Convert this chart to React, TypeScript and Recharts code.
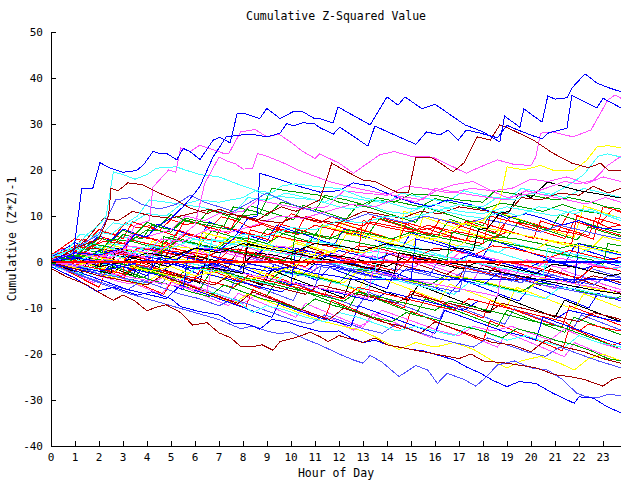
import React from 'react';
import { LineChart, Line, XAxis, YAxis } from 'recharts';

const hourTicks = [0,1,2,3,4,5,6,7,8,9,10,11,12,13,14,15,16,17,18,19,20,21,22,23];
const valueTicks = [-40,-30,-20,-10,0,10,20,30,40,50];
const hourDomain = [0, 23.75];
const valueDomain = [-40, 50];

// each series: [hour, value, hour, value, ...]
const topA = [0,0, 0.5,1.5, 0.9,0.5, 1.28,16, 1.74,16, 2.04,21.6, 2.46,20.4, 3.01,19.5, 3.57,19.9, 3.85,21.1, 4.26,24.1, 4.54,23.5, 4.82,23.6, 5.24,22.2, 5.51,24.7, 5.79,24, 6.21,22.3, 6.76,26.5, 7.04,27.1, 7.46,25.9, 7.76,32.3, 8.1,32.2, 8.7,31.2, 8.99,33.4, 9.54,31.2, 10.1,32.7, 10.45,32.8, 11,31.1, 11.2,31.2, 11.75,30.2, 11.96,33.7, 13.3,29.8, 14.0,35.9, 14.46,34.1, 14.75,35.9, 15.46,33.3, 16.0,34.3, 17.25,29.8, 18.0,28.3, 18.7,26.1, 18.9,31.7, 19.54,29.3, 19.7,33.3, 20.46,30.4, 20.7,36.1, 21.0,35.4, 21.5,35.7, 21.7,37.8, 22.25,40.9, 22.75,38.9, 23.17,38.0, 23.75,37.0];
const topB = [0,0, 1,2, 2,1.5, 3,3, 3.5,6, 4,5.5, 4.5,8, 5,9.5, 5.5,12, 6,15, 6.2,16.4, 6.75,22.8, 7.3,27.2, 7.9,27.6, 8.3,27.8, 9,27.2, 9.54,28, 9.82,30.1, 10.1,29.6, 10.5,30.3, 11,30, 11.2,29.2, 11.76,27.8, 12.04,29.3, 13.2,25.2, 13.5,29.6, 13.85,28.7, 14.5,27.2, 15.2,25.6, 15.65,28.3, 16.2,27.6, 16.55,28.7, 16.97,26.5, 17.3,28.7, 17.9,28, 18.6,27, 19.0,29.7, 19.5,28.6, 20.1,27.4, 20.46,26.8, 20.7,28, 21.5,29.1, 21.7,36.2, 22.75,33.5, 23.0,35.6, 23.75,33.5];
const mag1 = [0,0.5, 1,2, 2,1, 3,3, 3.5,8, 4.1,9, 4.25,16.3, 4.9,20, 5.2,19.5, 5.4,24.8, 5.8,24, 6.2,25.4, 6.7,24.5, 7.2,23.6, 7.4,23.5, 7.9,28.3, 8.5,28.8, 9,27.2, 9.5,27.8, 10,26, 10.5,24, 11,22.5, 11.2,23.5, 12,21.5, 12.6,19.3, 13.2,21.5, 13.7,23.3, 14.3,24, 15,23, 15.9,22.8, 16.75,20.7, 17.3,19.3, 17.9,20.7, 18.6,22.2, 19.3,21.2, 20.0,21, 20.2,22.8, 20.4,28, 20.9,28.3, 21.75,27.2, 22.5,28.7, 23.2,35.2, 23.5,36.3, 23.75,35.6];
const mag2 = [0,0, 1,-1, 2,0, 3,2, 4,1, 5,4, 6,8, 6.4,17, 7,22.8, 7.3,22, 7.7,21.3, 8,20.2, 8.4,20.3, 8.6,23.6, 9,23, 9.7,21.5, 10.3,20, 11,18.6, 11.6,17.5, 12.5,16.3, 13.5,15.2, 14.5,14.3, 15.5,13.5, 16,16, 17,15, 18,14.2, 19,13.5, 19.8,15.5, 20.6,14.5, 21.5,13.5, 22.3,12.6, 23.1,14, 23.75,13];
const mag3 = [0,0.5, 1,2, 2,1.5, 3,3, 4,2, 4.6,5, 5.5,4.5, 6.5,7, 7.5,6.5, 8.5,8, 9.5,10, 10.5,9.5, 11.5,11, 12.5,12.5, 13.5,12, 14.5,14, 15.2,13, 16.1,15.6, 16.8,16.8, 17.6,17.5, 18.3,15.6, 19,14, 19.9,14.8, 20.6,16, 21.4,17.5, 22,17, 22.6,17.8, 23.2,21, 23.75,23];
const darkRed1 = [0,0, 1,3, 2,5, 2.4,10, 2.5,16, 2.8,15.5, 3.2,17.2, 3.8,16.8, 4.5,15, 5.2,13.5, 5.8,11.7, 6.5,10.5, 7,11.5, 7.8,10, 8.6,9, 9,10.5, 9.6,12, 10.2,11, 11.2,13.5, 11.7,21.5, 12.2,20, 13,17.8, 13.5,17.5, 14.4,15.2, 14.9,15.2, 15.2,22.8, 15.9,22.6, 16.75,19.6, 17.2,21.5, 17.75,27.2, 18.3,26.5, 18.7,29.8, 19.1,29, 20.1,26.5, 20.9,23.7, 21.7,21.5, 22.4,20.5, 22.9,21.5, 23.2,20, 23.75,20];
const cyan1 = [0,1, 0.5,2, 1,3, 1.5,6, 2,8, 2.3,10, 2.6,19.6, 3,19, 3.5,18, 4,19, 4.4,20.4, 5.2,20.7, 5.6,20, 6.2,19, 7,18.5, 7.9,16.7, 8.6,15.5, 9.2,15, 9.6,16.5, 10.2,17, 11.2,16.3, 12,16, 13,14, 14,13, 15,11.5, 16,12.5, 17,11, 18,10.5, 19,12, 20,11, 21,10, 22,11.5, 23,10.5, 23.75,9.5];
const cyan3 = [0,1, 1,0, 2,2, 3,1, 4,3.5, 5,3, 6,5, 7,4.5, 8,6, 9,5.5, 10,7.5, 11,7, 12,9, 13,8.5, 14,10, 15,9.5, 16,11, 17,12.5, 18,12, 18.6,14, 19.3,13.5, 20,15, 20.8,14.5, 21.5,16.5, 22.2,19, 22.8,23, 23.2,23.5, 23.75,22.8];
const yellow1 = [0,0, 1,-1, 2,1, 3,0, 4,-2, 5,-1, 6,-3, 7,-2, 8,-4, 9,-3, 10,-1, 11,1, 12,3, 13,2, 14,4, 15,6, 16,5, 17,8, 18,9, 18.7,13, 19,20.7, 19.7,20, 20.4,21, 21,19.8, 21.8,20, 22.3,22, 22.75,25, 23.2,25.3, 23.75,24.8];
const black1 = [0,0, 1,1, 2,-1, 3,0, 4,2, 5,1, 6,3, 7,2, 8,4, 9,3, 10,2, 11,4, 12,3.5, 13,2.5, 14,4, 15,3, 16,2.5, 17,3, 17.6,2.5, 17.8,7, 18.2,7.4, 18.7,10.6, 19.1,11, 19.5,15, 20,14, 20.7,17.4, 21.3,16.5, 22,15.5, 22.8,14.8, 23.75,13.9];
const up1 = [0,0.5, 1,1, 1.6,4, 2.5,3.2, 3,6, 3.8,5, 4.2,8, 5,7, 5.6,9.5, 6.5,8.5, 7.2,7.8, 7.6,12, 8.5,11, 9,10, 9.6,13, 10.4,12, 11,11, 11.4,14.5, 12.3,13.5, 13,12.5, 13.6,14, 14.5,13, 15.4,12, 16,13.8, 17,12.5, 18,11.5, 18.8,12.8, 19.6,12, 20.5,11, 21.3,12.5, 22.2,11, 23,10.5, 23.75,9.5];
const up2 = [0,1, 0.6,2, 1.2,6, 2,5.5, 2.6,8.5, 3.2,8, 4,10.5, 4.8,10, 5.4,12.5, 6.2,12, 7,11, 7.6,10.5, 8.2,14, 9,13.5, 9.8,15, 10.6,14, 11.4,13, 12,14.5, 13,13.5, 14,12.8, 14.6,15, 15.5,14, 16.5,13, 17.2,15.5, 18,14.5, 19,13.5, 19.6,16, 20.6,15, 21.4,14, 22.2,16, 23,15, 23.75,14];
const up3 = [0,-0.5, 1,1, 2,2, 2.5,5, 3.3,4.5, 4,7, 5,6.5, 5.5,9, 6.5,8, 7.5,7, 8,10, 8.7,10.5, 9.2,16, 9.8,15.5, 10.5,15, 11.2,14.5, 12,13, 13,12, 13.5,13.5, 14.3,13, 15,14.8, 16,14.5, 17,13.5, 18,13, 18.5,15.5, 19.3,14.8, 20,14.5, 21,13.5, 21.6,14, 22.5,13, 23.1,12, 23.75,11.5];
const up4 = [0,0, 1,-0.5, 2,1, 3,2.5, 3.4,6, 4,5.5, 5,7, 5.6,10, 6.4,9, 7,10.5, 8,11, 8.6,13.5, 9.5,12.5, 10.5,11.5, 11.5,12, 12.2,15.5, 13,15, 14,14.5, 14.8,16.5, 15.6,16, 16.6,15, 17.5,16, 18.4,15.5, 19.2,16, 20,18, 20.7,17.5, 21.5,18.5, 22.3,17, 23,18.5, 23.75,17.5];
const up5 = [0,0.5, 0.8,2, 1.5,5, 2.2,9.5, 2.8,9, 3.4,11, 4.2,10, 5,9.5, 5.8,10.5, 6.6,11.5, 7.2,10.5, 8,10, 8.8,9, 9.6,8.5, 10.2,10, 11,9, 12,8.5, 13,11, 13.6,10.5, 14.6,9.5, 15.4,11, 16.2,10.5, 17,12, 18,11.2, 19,10.5, 19.6,14, 20.4,13.5, 21.2,15, 22,14.5, 22.6,16.5, 23.2,15, 23.75,16];
const up6 = [0,0, 1,-1, 2,-2, 3,-1, 4,-3, 4.5,1, 5.2,0.5, 6,3, 7,2.5, 7.6,5, 8.2,9.5, 8.6,10, 8.7,19.3, 9.5,18, 10.3,16.5, 11.2,15.2, 12,15.5, 12.6,17.2, 13.3,16.5, 14.2,14.5, 15,13, 15.8,12, 16.5,13.5, 17.5,12.5, 18.3,11, 19,9.5, 19.8,10.5, 20.5,9.5, 21.3,8, 22,9, 22.7,7.5, 23.75,7];
const up7 = [0,0, 0.7,1.5, 1.4,4, 2,6.5, 2.5,6, 3,8, 3.6,10, 4.1,13.5, 4.8,13, 5.5,12.5, 6.2,13.5, 7,13, 8,14, 8.5,15.5, 9,14.5, 10,14, 11,13.5, 12,12, 12.5,11.5, 13.2,12.5, 14,11, 14.8,10.5, 15.5,12, 16.4,11, 17.3,10, 18,9.5, 18.8,11, 19.5,10, 20.3,12, 21,11.5, 21.8,10.5, 22.5,11.5, 23.2,10, 23.75,9];
const upLB = [0,0, 1,3, 2,6, 2.7,13.5, 3.3,14, 3.8,12.5, 4.5,11.5, 5.2,12.5, 5.8,14.5, 6.4,13, 7,12, 7.6,11, 8.3,13, 9,15, 9.6,13.5, 10.3,12, 11,11, 11.6,10, 12.4,9, 13.2,10.5, 14,9.5, 14.8,8.5, 15.6,10, 16.4,9, 17.2,8, 18,9.5, 18.8,8.5, 19.6,7.5, 20.4,6.5, 21.2,8, 22,7, 22.8,6, 23.75,5];
const mid1 = [0,1, 0.5,2, 1,3.5, 1.5,3, 2.2,4.5, 3,4, 3.6,5.5, 4.2,5, 5,3.5, 5.6,6, 6.5,5, 7.3,4, 8,6.5, 8.8,5.5, 9.5,7, 10.3,6, 11,8, 11.8,7, 12.5,6, 13.2,8.5, 14,7.5, 15,6.5, 15.7,8, 16.5,7, 17.5,6, 18.2,5, 19,6.5, 20,5.5, 20.8,4.5, 21.7,4, 21.9,10, 22.6,9, 23.2,7.5, 23.75,8];
const mid2 = [0,0, 1,0.5, 1.5,2.5, 2.3,2, 3,1, 3.8,3, 4.6,2, 5.2,4.5, 6,4, 7,3, 7.5,5.5, 8.3,5, 9,4, 9.8,6.5, 10.8,6, 11.6,5, 12.4,7, 13.4,6, 14.2,5, 15,6.5, 16,5.5, 17,4.5, 17.8,3.5, 18.5,5.5, 19.4,5, 20.4,4, 21.2,3, 22,4, 23,3, 23.75,2];
const mid3 = [0,-0.5, 0.7,1, 1.4,0.5, 2,2.5, 2.6,2, 3.4,1, 4,3, 4.8,2.5, 5.5,1.5, 6.2,3.5, 7,3, 7.8,2, 8.5,1, 9,3.5, 9.8,3, 10.6,2, 11.3,1, 12,2.5, 12.8,1.5, 13.5,0.5, 14.3,2, 15,1.5, 15.8,0.5, 16.6,-0.5, 17.4,1.5, 18.2,0.5, 19,-0.5, 19.8,-1.5, 20.6,0.5, 21.4,-0.5, 22.2,-1.5, 23,0, 23.75,-1];
const mid4 = [0,0.5, 1,1.5, 2,1, 2.6,3, 3.4,2.5, 4.2,1.5, 5,3.5, 5.8,3, 6.6,2, 7.2,4.5, 8,4, 8.8,3, 9.5,2, 10.2,4, 11,3, 11.8,2, 12.3,6, 13,5.5, 13.8,4.5, 14.6,3.5, 15.3,5.5, 16.2,4.5, 17,3.5, 17.7,6, 18.5,5, 19.3,4, 20.1,2.5, 20.8,4.5, 21.6,3.5, 22.4,2.5, 23,5.5, 23.75,4.5];
const mid5 = [0,1.5, 0.8,3, 1.6,2.5, 2.4,4, 3.2,3.5, 4,2.5, 4.6,5, 5.4,4.5, 6.2,3.5, 7,2.5, 7.8,4.5, 8.6,4, 9.4,3, 10.2,2, 10.9,4.5, 11.7,4, 12.5,3, 13.3,2, 14,3.5, 14.8,3, 15.6,2, 16.4,1, 17,3.5, 17.8,3, 18.6,2, 19.3,4, 20.1,3, 20.9,2, 21.7,1, 22.5,3, 23.2,2, 23.75,1.5];
const mid6 = [0,0, 1,-1, 1.8,0.5, 2.6,0, 3.3,2, 4.1,1.5, 5,0.5, 5.8,-0.5, 6.4,2.5, 7.2,2, 8,1, 8.8,0, 9.6,2, 10.4,1.5, 11.2,0.5, 12,-0.5, 12.8,1.5, 13.6,1, 14.4,0, 15.2,-1, 15.9,1.5, 16.7,1, 17.5,0, 18.3,-1, 19.1,-2, 19.8,0.5, 20.6,-0.5, 21.4,-1.5, 22.2,0, 23,-1, 23.75,-2];
const mid7 = [0,0.5, 1,1, 1.7,3, 2.5,2.5, 3.3,1.5, 4,0.5, 4.7,2, 5.5,1.5, 6.3,0.5, 7,2.5, 7.8,2, 8.6,1, 9.4,0, 10.1,-1, 10.8,1, 11.6,0.5, 12.4,-0.5, 13.2,-1.5, 14,0, 14.8,-1, 15.6,-2, 16.4,-3, 17,-1, 17.8,-2, 18.6,-3, 19.4,-4, 20.2,-2.5, 21,-3.5, 21.8,-4.5, 22.6,-3, 23.4,-4, 23.75,-4.5];
const mid8 = [0,0, 0.8,-0.5, 1.6,-1.5, 2.2,0.5, 3,0, 3.8,-1, 4.6,-2, 5.2,0, 6,-0.5, 6.8,-1.5, 7.6,-2.5, 8.2,-0.5, 9,-1, 9.8,-2, 10.6,-3, 11.2,-1, 12,-1.5, 12.8,-2.5, 13.6,-3.5, 14.2,-1.5, 15,-2, 15.8,-3, 16.6,-4, 17.2,-2, 18,-2.5, 18.8,-3.5, 19.6,-4.5, 20.2,-2.5, 21,-3, 21.8,-4, 22.6,-5, 23.2,-3, 23.75,-3.5];
const mid9 = [0,-0.5, 0.8,0.5, 1.6,0, 2.4,2, 3.2,1.5, 4,0.5, 4.8,2.5, 5.6,2, 6.4,1, 7.2,3, 8,2.5, 8.8,1.5, 9.6,0.5, 10.4,2.5, 11.2,2, 12,1, 12.8,3.5, 13.6,3, 14.4,2, 15.2,1, 16,3, 16.8,2.5, 17.6,1.5, 18.4,3.5, 19.2,3, 20,2, 20.8,1, 21.6,2.5, 22.4,1.5, 23.2,0.5, 23.75,1];
const mid10 = [0,0.5, 1,0, 2,-1, 2.5,1.5, 3.3,1, 4.1,0, 4.9,-1, 5.5,1.5, 6.3,1, 7.1,0, 7.9,-1, 8.5,2, 9.3,1.5, 10.1,0.5, 10.9,-0.5, 11.6,1.5, 12.4,1, 13.2,0, 14,-1, 14.7,1, 15.5,0.5, 16.3,-0.5, 17.1,-1.5, 17.8,0, 18.6,-0.5, 19.4,-1.5, 20.2,-2.5, 20.9,-0.5, 21.7,-1, 22.5,-2, 23.3,-3, 23.75,-2.5];
const mid11 = [0,-0.5, 1,-1.5, 2,-2.5, 2.8,-1, 3.6,-1.5, 4.4,-2.5, 5.2,-3.5, 5.8,-1, 6.6,-1.5, 7.4,-2.5, 8.2,-3.5, 9,-4.5, 9.6,-2, 10.4,-2.5, 11.2,-3.5, 12,-4.5, 12.6,-1.5, 13.4,-2, 14.2,-3, 15,-4, 15.8,-5, 16.4,-3, 17.2,-3.5, 18,-4.5, 18.8,-5.5, 19.6,-6.5, 20.2,-4.5, 21,-5, 21.8,-6, 22.6,-7, 23.4,-8, 23.75,-7.5];
const mid12 = [0,0, 0.8,-1, 1.6,-2, 2.4,-3, 3,-1, 3.8,-1.5, 4.6,-2.5, 5.4,-3.5, 6,-1.5, 6.8,-2, 7.6,-3, 8.4,-4, 9,-1, 9.8,-1.5, 10.6,-2.5, 11.4,-3.5, 12.2,-4.5, 12.8,-2, 13.6,-2.5, 14.4,-3.5, 15.2,-4.5, 16,-5.5, 16.6,-3, 17.4,-3.5, 18.2,-4.5, 19,-5.5, 19.8,-6.5, 20.4,-3.5, 21.2,-4, 22,-5, 22.8,-6, 23.75,-7];
const mid13 = [0,0, 0.5,1.5, 1.2,1, 2,0, 2.8,-1, 3.4,1.5, 4.2,1, 5,0, 5.8,-1, 6.6,-2, 7.2,0.5, 8,0, 8.8,-1, 9.6,-2, 10.4,-3, 11,-0.5, 11.8,-1, 12.6,-2, 13.4,-3, 14.2,-4, 14.8,-1.5, 15.6,-2, 16.4,-3, 17.2,-4, 18,-5, 18.6,-2.5, 19.4,-3, 20.2,-4, 21,-5, 21.8,-6, 22.4,-3.5, 23.2,-4, 23.75,-5];
const mid14 = [0,1, 0.8,2.5, 1.6,2, 2.4,1, 3.2,3.5, 4,3, 4.8,2, 5.6,1, 6.4,3, 7.2,2.5, 8,1.5, 8.8,0.5, 9.4,3.5, 10.2,3, 11,2, 11.8,1, 12.6,0, 13.2,2.5, 14,2, 14.8,1, 15.6,0, 16.4,-1, 17,2, 17.8,1.5, 18.6,0.5, 19.4,-0.5, 20.2,-1.5, 20.8,1, 21.6,0.5, 22.4,-0.5, 23.2,-1.5, 23.75,-1];
const mid15 = [0,-1, 0.8,-2, 1.6,-3, 2.2,-0.5, 3,-1, 3.8,-2, 4.6,-3, 5.4,-4, 6,-1.5, 6.8,-2, 7.6,-3, 8.4,-4, 9.2,-5, 9.8,-2.5, 10.6,-3, 11.4,-4, 12.2,-5, 13,-6, 13.6,-3.5, 14.4,-4, 15.2,-5, 16,-6, 16.8,-7, 17.4,-4.5, 18.2,-5, 19,-6, 19.8,-7, 20.6,-8, 21.2,-5.5, 22,-6, 22.8,-7, 23.75,-8];
const mid16 = [0,0.5, 0.6,2.5, 1.4,2, 2.2,1, 3,0, 3.6,3, 4.4,2.5, 5.2,1.5, 6,0.5, 6.8,-0.5, 7.4,2.5, 8.2,2, 9,1, 9.8,0, 10.6,-1, 11.2,1.5, 12,1, 12.8,0, 13.6,-1, 14.4,-2, 15,1, 15.8,0.5, 16.6,-0.5, 17.4,-1.5, 18.2,-2.5, 18.8,0, 19.6,-0.5, 20.4,-1.5, 21.2,-2.5, 22,-3.5, 22.6,-1, 23.4,-1.5, 23.75,-2];
const low1 = [0,-0.5, 1,-1.5, 2,-2.5, 2.6,-0.5, 3.4,-1.5, 4.2,-2.5, 5,-3.5, 5.8,-4.5, 6.4,-2.5, 7.2,-3.5, 8,-4.5, 8.8,-5.5, 9.6,-6.5, 10.2,-4.5, 11,-5.5, 11.8,-6.5, 12.6,-7.5, 13.4,-8.5, 14,-6.5, 14.8,-7.5, 15.6,-8.5, 16.4,-9.5, 17.2,-10.5, 17.8,-8.5, 18.6,-9.5, 19.4,-10.5, 20.2,-11.5, 21,-12.5, 21.6,-10.5, 22.4,-11.5, 23.2,-12.5, 23.75,-13];
const low2 = [0,0, 1,-1, 2,-2, 3,-3, 3.6,-1, 4.4,-2, 5.2,-3, 6,-4, 6.8,-5, 7.4,-3, 8.2,-4, 9,-5, 9.8,-6, 10.6,-7, 11.2,-5, 12,-6, 12.8,-7, 13.6,-8, 14.4,-9, 15,-7, 15.8,-8, 16.6,-9, 17.4,-10, 18.2,-11, 18.8,-9, 19.6,-10, 20.4,-11, 21.2,-12, 22,-13, 22.6,-11, 23.4,-12, 23.75,-12.5];
const low3 = [0,0.5, 1,-0.5, 2,-1.5, 3,-2.5, 3.8,-3.5, 4.4,-1.5, 5.2,-2.5, 6,-3.5, 6.8,-4.5, 7.6,-5.5, 8.2,-3.5, 9,-4.5, 9.8,-5.5, 10.6,-6.5, 11.4,-7.5, 12.2,-8.5, 12.8,-6.5, 13.6,-7.5, 14.4,-8.5, 15.2,-9.5, 16,-10.5, 16.6,-8.5, 17.4,-9.5, 18.2,-10.5, 19,-11.5, 19.8,-12.5, 20.6,-13.5, 21.2,-14, 22,-15.5, 22.8,-17, 23.75,-19];
const low4 = [0,0, 1,-1.5, 2,-3, 3,-4.5, 4,-5, 4.8,-3, 5.6,-4.5, 6.4,-6, 7.2,-7.5, 8,-9, 8.6,-7, 9.4,-8.5, 10.2,-10, 11,-11.5, 11.8,-12.5, 12.6,-14.8, 13.2,-13, 13.8,-10.5, 14.6,-12, 15.4,-13.5, 16.2,-15, 17,-16, 17.6,-14, 18.4,-15, 19.2,-14, 20,-15.5, 20.8,-17, 21.4,-14.5, 22,-16, 22.8,-17.5, 23.75,-19];
const low5 = [0,0, 1,-1, 2,-2.5, 3,-4, 3.8,-5, 4.4,-3, 5.2,-4.5, 6,-6, 6.8,-7.5, 7.6,-9, 8.2,-7, 9,-8.5, 9.8,-10, 10.6,-11.5, 11.4,-13, 12.2,-14, 13,-15, 13.6,-16.5, 14.5,-19, 15.2,-17.5, 16,-18.5, 16.8,-17.5, 17.6,-19, 18.4,-21.5, 19,-23, 19.6,-21.5, 20.4,-20.5, 21.2,-22, 21.8,-23.5, 22.4,-21, 23,-20, 23.75,-21.5];
const low6 = [0,-0.5, 0.8,-2, 1.6,-3.5, 2.4,-5, 3.2,-6, 3.8,-4, 4.6,-5.5, 5.4,-7, 6.2,-8, 7,-9.5, 7.6,-8, 8.4,-9.5, 9.2,-11, 10,-12.5, 10.8,-13.5, 11.4,-11.5, 12.2,-13, 13,-14.5, 13.8,-15.5, 14.4,-13.5, 15.2,-15, 16,-16.5, 16.8,-17.5, 17.6,-18.5, 18.2,-16.5, 19,-18, 19.8,-19.5, 20.6,-20.5, 21.2,-18.5, 22,-20, 22.8,-21.5, 23.75,-23];
const low7 = [0,0, 1,-1, 2,-2, 3,-3, 3.6,-0.5, 4.4,-1.5, 5.2,-2.5, 6,-3.5, 6.8,-4.5, 7.6,-5.5, 8.2,-3, 9,-4, 9.8,-5, 10.6,-6, 11.4,-7, 12.2,-8, 12.8,-5.5, 13.6,-6.5, 14.4,-7.5, 15.2,-8.5, 16,-9.5, 16.8,-10.5, 17.4,-8, 18.2,-9, 19,-10, 19.8,-11, 20.6,-12, 21.4,-13, 22,-15, 22.4,-13.5, 23.2,-14.5, 23.75,-15];
const low8 = [0,0, 0.8,-1.5, 1.6,-3, 2.4,-4.5, 3.2,-6, 4,-7, 4.8,-8, 5.4,-5, 6.2,-6.5, 7,-8, 7.8,-9.5, 8.6,-11, 9.2,-12, 9.5,-9, 10.3,-10.5, 11.1,-12, 11.9,-13, 12.5,-14, 12.8,-9.5, 13.6,-11, 14.4,-12.5, 15.2,-14, 16,-15.5, 16.4,-10.5, 17.2,-12, 18,-13.5, 18.8,-15, 19.6,-16, 20.2,-17, 20.5,-12, 21.3,-13.5, 22.1,-15, 22.9,-16.5, 23.75,-18];
const low9 = [0,0.5, 1,-0.5, 2,-2, 3,-3.5, 4,-5, 4.6,-3, 5.4,-4.5, 6.2,-6, 7,-7, 7.8,-8.5, 8.4,-11, 9,-9.5, 9.8,-10.5, 10.6,-12, 11.4,-13, 12,-11, 12.8,-12, 13.6,-13.5, 14.4,-15, 15.2,-14, 16,-15, 16.8,-16, 17.4,-14, 18.2,-15.5, 19,-17, 19.8,-16, 20.6,-17.5, 21.4,-18.5, 22,-16, 22.8,-17.5, 23.75,-18.5];
const low10 = [0,0, 1,-1, 2,-2.5, 2.6,-1, 3.4,-2.5, 4.2,-4, 5,-5, 5.8,-6.5, 6.6,-7.5, 7.2,-5, 8,-6.5, 8.8,-8, 9.6,-9, 10.4,-10.5, 11,-8, 11.8,-9.5, 12.6,-10.5, 13.4,-12, 14.2,-13, 14.8,-11, 15.6,-12, 16.4,-13, 17.2,-14, 18,-15, 18.8,-16.5, 19.4,-14.5, 20.2,-15.5, 21,-17, 21.8,-18, 22.6,-19.5, 23.2,-21, 23.75,-21.5];
const low11 = [0,0, 1,-1.5, 2,-3, 3,-4, 4,-5, 4.6,-3, 5.4,-4.5, 6.2,-6, 7,-7.5, 7.8,-9, 8.4,-6.5, 9.2,-8, 10,-9.5, 10.8,-11, 11.6,-12.5, 12.2,-10, 13,-11.5, 13.8,-13, 14.6,-14, 15.4,-15.5, 16,-13, 16.8,-14.5, 17.6,-16, 18.4,-17.5, 19.2,-18, 20,-19.5, 20.6,-17, 21.4,-18.5, 22.2,-19.5, 23,-21, 23.75,-22];
const lowLB = [0,-0.5, 1,-2.5, 2,-4.5, 3,-6.5, 4,-8, 5,-9.5, 6,-11, 7,-12.5, 7.9,-14.5, 8.4,-13.9, 9,-15, 9.5,-15.6, 10,-15.2, 10.7,-17, 11.2,-18, 12,-20, 12.6,-21.3, 13,-22, 13.3,-20.3, 13.8,-21.8, 14.5,-24.9, 15.2,-22.5, 15.7,-23.5, 16.1,-26.4, 16.5,-24.2, 17.2,-25.5, 17.7,-27, 18.15,-24.9, 18.6,-22.4, 19.3,-21.5, 20,-23, 20.7,-23.5, 21.3,-25.5, 21.9,-28.5, 22.3,-29.3, 22.8,-29.5, 23.2,-28.8, 23.75,-29];
const lowBlue = [0,-1, 1,-3.5, 1.9,-6.4, 2.6,-5.5, 3.6,-7.2, 4.2,-6.5, 5,-8, 5.4,-9.7, 6.2,-10.8, 7,-11.5, 7.6,-13.3, 8.2,-13.5, 8.7,-14.6, 9.2,-12.5, 9.8,-13, 10.4,-14, 11.2,-15.1, 12,-15, 12.5,-16.5, 13,-17.5, 13.5,-17, 14,-18, 14.5,-18.5, 15,-19, 15.5,-19.3, 15.9,-19.9, 16.8,-21.3, 17.3,-22.8, 17.9,-24.2, 18.4,-25.7, 19,-27.1, 19.5,-26, 20.2,-26.4, 20.9,-28.5, 21.8,-30.7, 22,-29.3, 22.6,-29.6, 23.15,-31.4, 23.75,-32.8];
const lowDarkRed = [0,-1.4, 0.65,-3.2, 1.5,-5, 2.2,-7.2, 2.6,-8.3, 3,-7.2, 3.5,-8.5, 4,-10.6, 4.4,-9.8, 4.8,-9.3, 5.4,-11, 5.9,-13.7, 6.5,-13.2, 7,-15.4, 7.5,-16.5, 7.9,-18.4, 8.4,-18.4, 8.8,-18, 9.25,-19.2, 9.54,-17.3, 10.2,-16.4, 10.8,-15.3, 11.2,-16.2, 11.55,-17.3, 12,-16, 13,-17.5, 13.5,-16.5, 14,-18, 15,-19, 16,-20, 17,-21, 17.5,-20, 18,-21.5, 19,-22, 20.2,-23, 21,-24.5, 21.6,-24.9, 22.2,-25.5, 23,-27, 23.4,-25.5, 23.75,-25];
const jump1 = [0,0, 1,-1, 2,-2, 3,-3, 4,-4, 5,-5, 5.5,-6, 5.7,1, 6.5,0, 7.5,-1.5, 8.5,-3, 9.5,-4, 10,-5, 10.2,3, 11,2, 12,0.5, 13,-1, 14,-2.5, 15,-4, 15.2,5, 16,4, 17,2.5, 18,1, 19,-0.5, 20,-2, 21,-3.5, 21.8,-4.5, 22,4, 23,2.5, 23.75,1.5];
const jump2 = [0,0.5, 1,-0.5, 2,-1.5, 3,-2.5, 3.2,5, 4,4, 5,3, 6,2, 7,1, 8,0, 8.3,7, 9,6, 10,5, 11,4, 12,3, 12.8,2, 13,9, 14,8, 15,7, 16,6, 17,5, 18,4, 18.3,10, 19,9, 20,8, 21,7, 22,6, 22.6,5, 23,12, 23.75,11];
const jump3 = [0,0, 1,-1, 2,-2.5, 3,-3.5, 4,-4.5, 4.3,2, 5,1, 6,0, 7,-1, 8,-2.5, 9,-3.5, 10,-4.5, 11,-5.5, 11.3,0, 12,-1, 13,-2, 14,-3, 15,-4.5, 16,-5.5, 17,-6.5, 17.3,-1, 18,-2, 19,-3, 20,-4.5, 21,-5.5, 22,-6.5, 23,-7.5, 23.75,-8];
const jump4 = [0,0.5, 1,1.5, 2,0.5, 3,-0.5, 4,-1.5, 4.5,-2, 4.7,5.5, 5.5,4.5, 6.5,3.5, 7.5,2.5, 8.5,1.5, 9.5,0.5, 10,0, 10.2,7, 11,6, 12,5, 13,4, 14,3, 15,2, 16,1, 16.5,0.5, 16.7,6.5, 17.5,5.5, 18.5,4.5, 19.5,3.5, 20.5,2.5, 21.5,1.5, 22.5,0.5, 23,-0.5, 23.2,4, 23.75,3.5];
const jump5 = [0,1, 1,0, 2,-1, 2.3,4, 3,3, 4,2, 5,1, 6,0, 6.3,6.5, 7,5.5, 8,4.5, 9,3.5, 10,2.5, 11,1.5, 11.3,8, 12,7, 13,6, 14,5, 14.5,4.5, 14.7,11, 15.5,10, 16.5,9, 17.5,8, 18.5,7, 19.5,6, 20.5,5, 21.5,4, 22.5,3, 23.75,2];
const jump6 = [0,0, 1,-1, 2,-2, 3,-3, 4,-4, 5,-5, 6,-6, 6.5,-6.5, 6.7,-1, 7.5,-2, 8.5,-3, 9.5,-4, 10.5,-5, 11.5,-6, 12.5,-7, 13.2,-8, 13.4,-2, 14.2,-3, 15.2,-4, 16.2,-5, 17.2,-6, 18.2,-7, 18.6,-7.5, 18.8,-1.5, 19.6,-2.5, 20.6,-3.5, 21.6,-4.5, 22.6,-5.5, 23.75,-6.5];
const jump7 = [0,0, 1,-1, 2,-2, 2.5,-2.5, 2.7,3, 3.5,2, 4.5,1, 5.5,0, 6.5,-1, 7.5,-2, 8,-2.5, 8.2,4, 9,3, 10,2, 11,1, 12,0, 13,-1, 14,-2, 14.3,-2.5, 14.5,2, 15.5,1, 16.5,0, 17.5,-1, 18.5,-2, 19.5,-3, 20.5,-4, 21.5,-5, 22.5,-6, 23.75,-7];
const jump8 = [0,0.5, 1,2, 1.8,4, 2.5,3, 3.5,2, 4.5,1, 5.5,0, 6.5,-1, 6.7,5, 7.5,4, 8.5,3, 9.5,2, 10.5,1, 11.5,0, 12.5,-1, 13.5,-2, 13.7,4, 14.5,3, 15.5,2, 16.5,1, 17.5,0, 18.5,-1, 19.5,-2, 20.5,-3, 20.7,3, 21.5,2, 22.5,1, 23.75,-0.5];
const ext1 = [0,1, 0.4,3, 0.9,2.5, 1.3,5, 1.8,4.2, 2.2,6.5, 2.7,6, 3.1,8.5, 3.6,7.4, 4.1,7.9, 4.5,6.8, 5,9.2, 5.6,8.1, 6.1,8.6, 6.6,7.3, 7.1,9.8, 7.7,9, 8.3,7.5, 8.8,8.2, 9.4,6.9, 10,10.5, 10.6,9.4, 11.2,8.5, 11.7,9.9, 12.3,8.6, 13,7.8, 13.5,10.2, 14.1,9.1, 14.8,8.3, 15.3,6.9, 16,7.5, 16.7,6.2, 17.3,8.8, 17.9,7.6, 18.5,6.4, 19.2,9.9, 19.8,8.8, 20.5,7.7, 21.1,6.5, 21.6,10.8, 22.2,9.6, 22.9,8.4, 23.4,11.5, 23.75,10.8];
const ext2 = [0,0.5, 0.5,-0.8, 1,0.8, 1.5,-0.3, 2,-1.4, 2.4,1.8, 3,1.1, 3.5,-0.2, 4,-1.1, 4.6,0.9, 5.1,-0.4, 5.7,-1.6, 6.2,-2.8, 6.6,1.4, 7.2,0.3, 7.8,-0.9, 8.4,-2.1, 9,-3.3, 9.3,-0.5, 9.9,-1.6, 10.5,-2.9, 11.1,-4, 11.6,-1.2, 12.2,-2.4, 12.8,-3.5, 13.4,-4.7, 14,-5.8, 14.3,-2.3, 14.9,-3.5, 15.5,-4.6, 16.1,-5.8, 16.6,-7, 17.1,-3.9, 17.7,-5, 18.3,-6.2, 18.9,-7.4, 19.5,-8.5, 20,-5.2, 20.6,-6.4, 21.2,-7.6, 21.8,-8.7, 22.4,-10, 22.8,-6.8, 23.4,-7.9, 23.75,-8.5];
const ext3 = [0,0, 0.6,1.7, 1.1,1, 1.7,3.4, 2.2,2.6, 2.8,1.8, 3.3,4.6, 3.9,3.7, 4.5,2.9, 5,5.6, 5.6,4.7, 6.2,3.8, 6.7,6.8, 7.3,5.9, 7.9,5, 8.5,4.1, 9,7.2, 9.6,6.3, 10.2,5.3, 10.8,4.4, 11.3,8.1, 11.9,7.1, 12.5,6.2, 13.1,5.2, 13.7,9.5, 14.3,8.5, 14.9,7.5, 15.5,6.5, 16.1,5.5, 16.6,9.3, 17.2,8.3, 17.8,7.3, 18.4,6.3, 19,5.3, 19.5,8.8, 20.1,7.8, 20.7,6.8, 21.3,5.8, 21.9,4.8, 22.4,7.6, 23,6.6, 23.75,5.5];
const ext4 = [0,0.5, 0.5,2.2, 1,1.4, 1.6,0.5, 2.1,3.3, 2.7,2.5, 3.2,1.6, 3.8,0.7, 4.2,4.5, 4.8,3.6, 5.4,2.6, 6,1.7, 6.5,6.2, 7.1,5.3, 7.7,4.3, 8.3,3.3, 8.9,2.3, 9.4,5.8, 10,4.8, 10.6,3.8, 11.2,2.8, 11.8,1.8, 12.1,8.5, 12.7,7.5, 13.3,6.5, 13.9,5.5, 14.5,4.4, 15.1,3.4, 15.5,9.8, 16.1,8.7, 16.7,7.7, 17.3,6.7, 17.9,5.6, 18.5,4.6, 18.8,10.5, 19.4,9.5, 20,8.4, 20.6,7.4, 21.2,6.4, 21.8,5.3, 22.2,12.2, 22.8,11.2, 23.4,10.1, 23.75,9.5];
const ext5 = [0,-0.5, 0.6,-1.8, 1.2,-1, 1.8,-2.3, 2.4,-3.5, 2.8,-1.2, 3.4,-2.4, 4,-3.6, 4.6,-4.8, 5,-2.1, 5.6,-3.3, 6.2,-4.5, 6.8,-5.7, 7.4,-6.9, 7.7,-3.6, 8.3,-4.8, 8.9,-6, 9.5,-7.2, 10.1,-8.4, 10.4,-5.1, 11,-6.3, 11.6,-7.5, 12.2,-8.7, 12.8,-9.8, 13.2,-6.5, 13.8,-7.7, 14.4,-8.9, 15,-10.1, 15.6,-11.3, 16.2,-12.4, 16.5,-8.8, 17.1,-10, 17.7,-11.2, 18.3,-12.4, 18.9,-13.5, 19.3,-10.2, 19.9,-11.4, 20.5,-12.6, 21.1,-13.8, 21.7,-15, 22.1,-11.5, 22.7,-12.7, 23.3,-13.9, 23.75,-14.8];
const ext6 = [0,0, 0.5,-1.2, 1,-2.4, 1.3,0.6, 1.9,-0.5, 2.5,-1.7, 3.1,-2.9, 3.5,0.4, 4.1,-0.8, 4.7,-2, 5.3,-3.1, 5.9,-4.3, 6.3,-1.1, 6.9,-2.3, 7.5,-3.5, 8.1,-4.6, 8.7,-5.8, 9,-2.5, 9.6,-3.7, 10.2,-4.9, 10.8,-6.1, 11.4,-7.2, 11.7,-4, 12.3,-5.2, 12.9,-6.4, 13.5,-7.6, 14.1,-8.8, 14.7,-10, 15,-6.3, 15.6,-7.5, 16.2,-8.7, 16.8,-9.9, 17.4,-11, 18,-12.2, 18.3,-8.4, 18.9,-9.6, 19.5,-10.8, 20.1,-12, 20.7,-13.2, 21.3,-14.3, 21.6,-9.5, 22.2,-10.7, 22.8,-11.9, 23.4,-13.1, 23.75,-13.8];
const ext7 = [0,1, 0.4,2.8, 0.9,2.1, 1.5,1, 2,0, 2.4,3.4, 3,2.4, 3.6,1.3, 4.2,0.3, 4.8,-0.8, 5.2,4.1, 5.8,3, 6.4,1.9, 7,0.9, 7.6,-0.2, 8,3.5, 8.6,2.4, 9.2,1.3, 9.8,0.2, 10.4,-0.9, 11,-2, 11.3,2.8, 11.9,1.7, 12.5,0.6, 13.1,-0.5, 13.7,-1.6, 14.3,-2.7, 14.6,1.5, 15.2,0.4, 15.8,-0.7, 16.4,-1.8, 17,-2.9, 17.6,-4, 18,-0.4, 18.6,-1.5, 19.2,-2.6, 19.8,-3.7, 20.4,-4.8, 21,-5.9, 21.3,-1.7, 21.9,-2.8, 22.5,-3.9, 23.1,-5, 23.75,-6];
const ext8 = [0,0.5, 0.5,1.9, 1,1.2, 1.4,4.1, 1.9,3.3, 2.5,2.3, 3,5.5, 3.6,4.6, 4.2,3.6, 4.8,2.6, 5.2,6.3, 5.8,5.3, 6.4,4.3, 7,3.3, 7.6,2.3, 8,5.6, 8.6,4.6, 9.2,3.6, 9.8,2.6, 10.4,1.6, 10.8,5.2, 11.4,4.2, 12,3.2, 12.6,2.2, 13.2,1.2, 13.8,0.2, 14.2,4.9, 14.8,3.9, 15.4,2.9, 16,1.9, 16.6,0.9, 17.2,-0.1, 17.6,3.8, 18.2,2.8, 18.8,1.8, 19.4,0.8, 20,-0.2, 20.6,-1.2, 21,2.5, 21.6,1.5, 22.2,0.5, 22.8,-0.5, 23.4,-1.5, 23.75,-1.2];
const ext9 = [0,0.5, 0.6,-0.6, 1.2,1.7, 1.8,0.6, 2.4,-0.5, 2.8,2.6, 3.4,1.5, 4,0.4, 4.6,-0.7, 5,3.3, 5.6,2.2, 6.2,1.1, 6.8,0, 7.4,-1.1, 7.8,2.9, 8.4,1.8, 9,0.7, 9.6,-0.4, 10.2,-1.5, 10.6,3.4, 11.2,2.3, 11.8,1.2, 12.4,0.1, 13,-1, 13.6,-2.1, 14,1.9, 14.6,0.8, 15.2,-0.3, 15.8,-1.4, 16.4,-2.5, 17,-3.6, 17.4,0.4, 18,-0.7, 18.6,-1.8, 19.2,-2.9, 19.8,-4, 20.4,-5.1, 20.8,-1.5, 21.4,-2.6, 22,-3.7, 22.6,-4.8, 23.2,-5.9, 23.75,-6.8];
const ext10 = [0,1, 0.5,2.6, 1,4.2, 1.5,3.3, 2,5.7, 2.5,4.7, 3,7.2, 3.5,6.2, 4,5.2, 4.4,8.2, 5,7.2, 5.6,6.2, 6.2,5.2, 6.6,8.7, 7.2,7.6, 7.8,6.6, 8.4,5.5, 9,4.5, 9.4,8, 10,6.9, 10.6,5.9, 11.2,4.8, 11.8,3.8, 12.2,7.1, 12.8,6, 13.4,5, 14,3.9, 14.6,2.9, 15,6.4, 15.6,5.3, 16.2,4.3, 16.8,3.2, 17.4,2.2, 18,1.1, 18.4,4.8, 19,3.7, 19.6,2.7, 20.2,1.6, 20.8,0.6, 21.4,-0.5, 21.8,3.4, 22.4,2.3, 23,1.3, 23.75,0];
const ext11 = [0,-0.5, 0.6,-1.8, 1.2,-3, 1.6,-0.6, 2.2,-1.8, 2.8,-3, 3.4,-4.2, 3.8,-1.2, 4.4,-2.4, 5,-3.6, 5.6,-4.8, 6.2,-6, 6.6,-2.5, 7.2,-3.7, 7.8,-4.9, 8.4,-6.1, 9,-7.3, 9.4,-4.1, 10,-5.3, 10.6,-6.5, 11.2,-7.7, 11.8,-8.9, 12.4,-10.1, 12.8,-6.5, 13.4,-7.7, 14,-8.9, 14.6,-10.1, 15.2,-11.3, 15.6,-8, 16.2,-9.2, 16.8,-10.4, 17.4,-11.6, 18,-12.8, 18.6,-14, 19,-10.5, 19.6,-11.7, 20.2,-12.9, 20.8,-14.1, 21.4,-15.3, 21.8,-12, 22.4,-13.2, 23,-14.4, 23.75,-15.8];
const ext12 = [0,0, 0.5,-1.3, 1,0.9, 1.6,-0.3, 2.2,-1.5, 2.6,1.6, 3.2,0.4, 3.8,-0.8, 4.4,-2, 4.8,1.1, 5.4,-0.1, 6,-1.3, 6.6,-2.5, 7.2,-3.7, 7.6,0, 8.2,-1.2, 8.8,-2.4, 9.4,-3.6, 10,-4.8, 10.4,-1.5, 11,-2.7, 11.6,-3.9, 12.2,-5.1, 12.8,-6.3, 13.2,-2.4, 13.8,-3.6, 14.4,-4.8, 15,-6, 15.6,-7.2, 16.2,-8.4, 16.6,-4.8, 17.2,-6, 17.8,-7.2, 18.4,-8.4, 19,-9.6, 19.4,-5.5, 20,-6.7, 20.6,-7.9, 21.2,-9.1, 21.8,-10.3, 22.2,-6.9, 22.8,-8.1, 23.4,-9.3, 23.75,-10];
const ext13 = [0,1.5, 0.5,3.3, 1,5.1, 1.5,4.3, 2,7.1, 2.5,6.1, 3,5.1, 3.4,8.7, 4,7.7, 4.6,6.7, 5.2,5.7, 5.6,9.2, 6.2,8.2, 6.8,7.2, 7.4,6.2, 7.8,10.1, 8.4,9.1, 9,8.1, 9.6,7.1, 10.2,6.1, 10.6,10, 11.2,9, 11.8,8, 12.4,7, 13,6, 13.4,9.8, 14,8.8, 14.6,7.8, 15.2,6.8, 15.8,5.8, 16.2,9.3, 16.8,8.3, 17.4,7.3, 18,6.3, 18.6,5.3, 19,9.1, 19.6,8.1, 20.2,7.1, 20.8,6.1, 21.4,5.1, 21.8,8.9, 22.4,7.9, 23,6.9, 23.75,5.8];
const ext14 = [0,0, 0.6,1.4, 1.2,0.6, 1.8,-0.3, 2.2,2.8, 2.8,1.9, 3.4,0.9, 4,0, 4.4,3.4, 5,2.4, 5.6,1.4, 6.2,0.4, 6.8,-0.6, 7.2,2.9, 7.8,1.9, 8.4,0.9, 9,-0.1, 9.6,-1.1, 10,2.5, 10.6,1.5, 11.2,0.5, 11.8,-0.5, 12.4,-1.5, 13,-2.5, 13.4,1.3, 14,0.3, 14.6,-0.7, 15.2,-1.7, 15.8,-2.7, 16.2,0.8, 16.8,-0.2, 17.4,-1.2, 18,-2.2, 18.6,-3.2, 19.2,-4.2, 19.6,-0.6, 20.2,-1.6, 20.8,-2.6, 21.4,-3.6, 22,-4.6, 22.4,-1.2, 23,-2.2, 23.75,-3.3];
const ext15 = [0,0, 0.6,-1.3, 1.2,-2.6, 1.6,0.7, 2.2,-0.5, 2.8,-1.7, 3.4,-2.9, 3.8,0.2, 4.4,-1, 5,-2.2, 5.6,-3.4, 6.2,-4.6, 6.4,-0.3, 7,-1.5, 7.6,-2.7, 8.2,-3.9, 8.8,-5.1, 9.2,-1.8, 9.8,-3, 10.4,-4.2, 11,-5.4, 11.6,-6.6, 12.2,-7.8, 12.5,-3.6, 13.1,-4.8, 13.7,-6, 14.3,-7.2, 14.9,-8.4, 15.3,-5, 15.9,-6.2, 16.5,-7.4, 17.1,-8.6, 17.7,-9.8, 18.3,-11, 18.6,-7.2, 19.2,-8.4, 19.8,-9.6, 20.4,-10.8, 21,-12, 21.4,-8.3, 22,-9.5, 22.6,-10.7, 23.2,-11.9, 23.75,-12.9];
const ext16 = [0,-0.5, 0.6,-1.9, 1.2,-3.2, 1.8,-4.5, 2.2,-1.9, 2.8,-3.2, 3.4,-4.5, 4,-5.8, 4.6,-7.1, 5,-4.3, 5.6,-5.6, 6.2,-6.9, 6.8,-8.2, 7.4,-9.5, 7.8,-6.8, 8.4,-8.1, 9,-9.4, 9.6,-10.7, 10.2,-12, 10.6,-9, 11.2,-10.3, 11.8,-11.6, 12.4,-12.9, 13,-14.2, 13.4,-11.2, 14,-12.5, 14.6,-13.8, 15.2,-15.1, 15.8,-16.4, 16.2,-13.3, 16.8,-14.6, 17.4,-15.9, 18,-17.2, 18.6,-18.5, 19,-15.4, 19.6,-16.7, 20.2,-18, 20.8,-19.3, 21.4,-20.6, 21.8,-17.5, 22.4,-18.8, 23,-20.1, 23.75,-21.5];
const ext17 = [0,0.5, 0.5,2, 1,3.5, 1.5,2.7, 2,5.3, 2.5,4.4, 3,6.9, 3.5,6, 4,8.6, 4.5,7.7, 5,10.3, 5.5,9.3, 6.1,8.3, 6.6,11.3, 7.2,10.3, 7.8,9.3, 8.3,12.2, 8.9,11.2, 9.5,10.2, 10.1,9.2, 10.5,12.3, 11.1,11.3, 11.7,10.3, 12.3,9.3, 12.8,12.6, 13.4,11.6, 14,10.6, 14.6,9.6, 15.2,8.6, 15.6,11.9, 16.2,10.9, 16.8,9.9, 17.4,8.9, 18,7.9, 18.4,11, 19,10, 19.6,9, 20.2,8, 20.8,7, 21.2,10.3, 21.8,9.3, 22.4,8.3, 23,7.3, 23.75,6.3];
const ext18 = [0,0, 0.5,-1.4, 1,-2.8, 1.5,-4.2, 2,-5.5, 2.3,-1.8, 2.9,-3.1, 3.5,-4.4, 4.1,-5.7, 4.7,-7, 5.1,-3.5, 5.7,-4.8, 6.3,-6.1, 6.9,-7.4, 7.5,-8.7, 8.1,-10, 8.4,-6, 9,-7.3, 9.6,-8.6, 10.2,-9.9, 10.8,-11.2, 11.4,-12.5, 11.7,-8.3, 12.3,-9.6, 12.9,-10.9, 13.5,-12.2, 14.1,-13.5, 14.7,-14.8, 15,-10.7, 15.6,-12, 16.2,-13.3, 16.8,-14.6, 17.4,-15.9, 18,-17.2, 18.3,-12.8, 18.9,-14.1, 19.5,-15.4, 20.1,-16.7, 20.7,-18, 21.3,-19.3, 21.6,-14.2, 22.2,-15.5, 22.8,-16.8, 23.4,-18.1, 23.75,-17.5];
const ext19 = [0,0.5, 0.4,2.1, 0.8,1.5, 1.3,3.6, 1.7,3, 2.2,5.3, 2.7,4.6, 3.1,3.9, 3.5,6.2, 4,5.4, 4.5,4.7, 5,3.9, 5.3,6.9, 5.8,6.1, 6.3,5.3, 6.8,4.5, 7.1,7.8, 7.7,7, 8.2,6.2, 8.7,5.4, 9.2,4.6, 9.5,8.3, 10.1,7.4, 10.6,6.6, 11.1,5.8, 11.6,5, 12,8.5, 12.5,7.7, 13,6.9, 13.5,6.1, 14,5.3, 14.5,4.5, 14.8,8.6, 15.3,7.8, 15.8,7, 16.3,6.2, 16.8,5.4, 17.3,4.6, 17.6,9.1, 18.1,8.3, 18.6,7.5, 19.1,6.7, 19.6,5.9, 20.1,5.1, 20.4,8.9, 20.9,8.1, 21.4,7.3, 21.9,6.5, 22.4,5.7, 22.7,9.6, 23.2,8.8, 23.75,8];
const flatLow = [0,0, 1,1, 2,0, 3,-1, 4,0.5, 5,-0.5, 6,-1.5, 7,0, 8,-1, 9,-2, 10,-1, 11,-2.5, 11.8,-3, 12.46,-3.75, 23.75,-3.75];
const flatZeroRed = [0,0, 20.7,0];
const flatZeroBlue = [20.7,0, 23.75,0];

const BLUE = '#0000ff', RED = '#ff0000', GREEN = '#00a000', YELLOW = '#ffff00', CYAN = '#40ffff', MAGENTA = '#ff50ff', DARKRED = '#a00000', BLACK = '#000000', LIGHTBLUE = '#5050ff';

const series: { id: string; pts: number[]; color: string; w?: number }[] = [
  { id: 'ext1', pts: ext1, color: RED },
  { id: 'ext2', pts: ext2, color: BLUE },
  { id: 'ext3', pts: ext3, color: GREEN },
  { id: 'ext4', pts: ext4, color: YELLOW },
  { id: 'ext5', pts: ext5, color: LIGHTBLUE },
  { id: 'ext6', pts: ext6, color: RED },
  { id: 'ext7', pts: ext7, color: MAGENTA },
  { id: 'ext8', pts: ext8, color: CYAN },
  { id: 'ext9', pts: ext9, color: DARKRED },
  { id: 'ext10', pts: ext10, color: BLUE },
  { id: 'ext11', pts: ext11, color: GREEN },
  { id: 'ext12', pts: ext12, color: YELLOW },
  { id: 'ext13', pts: ext13, color: RED },
  { id: 'ext14', pts: ext14, color: LIGHTBLUE },
  { id: 'ext15', pts: ext15, color: BLACK },
  { id: 'ext16', pts: ext16, color: MAGENTA },
  { id: 'ext17', pts: ext17, color: GREEN },
  { id: 'ext18', pts: ext18, color: RED },
  { id: 'ext19', pts: ext19, color: RED },
  { id: 'mid1', pts: mid1, color: RED },
  { id: 'mid2', pts: mid2, color: GREEN },
  { id: 'mid3', pts: mid3, color: BLUE },
  { id: 'mid4', pts: mid4, color: YELLOW },
  { id: 'mid5', pts: mid5, color: CYAN },
  { id: 'mid6', pts: mid6, color: MAGENTA },
  { id: 'mid7', pts: mid7, color: DARKRED },
  { id: 'mid8', pts: mid8, color: LIGHTBLUE },
  { id: 'mid9', pts: mid9, color: RED },
  { id: 'mid10', pts: mid10, color: BLACK },
  { id: 'mid11', pts: mid11, color: GREEN },
  { id: 'mid12', pts: mid12, color: YELLOW },
  { id: 'mid13', pts: mid13, color: BLUE },
  { id: 'mid14', pts: mid14, color: MAGENTA },
  { id: 'mid15', pts: mid15, color: CYAN },
  { id: 'mid16', pts: mid16, color: RED },
  { id: 'low1', pts: low1, color: BLUE },
  { id: 'low2', pts: low2, color: DARKRED },
  { id: 'low3', pts: low3, color: GREEN },
  { id: 'low4', pts: low4, color: MAGENTA },
  { id: 'low5', pts: low5, color: YELLOW },
  { id: 'low6', pts: low6, color: LIGHTBLUE },
  { id: 'low7', pts: low7, color: RED },
  { id: 'low8', pts: low8, color: BLUE },
  { id: 'low9', pts: low9, color: CYAN },
  { id: 'low10', pts: low10, color: GREEN },
  { id: 'low11', pts: low11, color: DARKRED },
  { id: 'lowLB', pts: lowLB, color: LIGHTBLUE },
  { id: 'lowBlue', pts: lowBlue, color: BLUE },
  { id: 'lowDarkRed', pts: lowDarkRed, color: DARKRED },
  { id: 'jump1', pts: jump1, color: BLUE },
  { id: 'jump2', pts: jump2, color: RED },
  { id: 'jump3', pts: jump3, color: LIGHTBLUE },
  { id: 'jump4', pts: jump4, color: GREEN },
  { id: 'jump5', pts: jump5, color: YELLOW },
  { id: 'jump6', pts: jump6, color: MAGENTA },
  { id: 'jump7', pts: jump7, color: BLACK },
  { id: 'jump8', pts: jump8, color: CYAN },
  { id: 'up1', pts: up1, color: GREEN },
  { id: 'up2', pts: up2, color: CYAN },
  { id: 'up3', pts: up3, color: GREEN },
  { id: 'up4', pts: up4, color: MAGENTA },
  { id: 'up5', pts: up5, color: DARKRED },
  { id: 'up6', pts: up6, color: BLUE },
  { id: 'up7', pts: up7, color: CYAN },
  { id: 'upLB', pts: upLB, color: LIGHTBLUE },
  { id: 'yellow1', pts: yellow1, color: YELLOW },
  { id: 'black1', pts: black1, color: BLACK },
  { id: 'cyan1', pts: cyan1, color: CYAN },
  { id: 'cyan3', pts: cyan3, color: CYAN },
  { id: 'mag3', pts: mag3, color: MAGENTA },
  { id: 'mag2', pts: mag2, color: MAGENTA },
  { id: 'mag1', pts: mag1, color: MAGENTA },
  { id: 'darkRed1', pts: darkRed1, color: DARKRED },
  { id: 'topB', pts: topB, color: BLUE },
  { id: 'topA', pts: topA, color: BLUE },
  { id: 'flatLow', pts: flatLow, color: BLUE },
  { id: 'flatZeroRed', pts: flatZeroRed, color: RED, w: 2 },
  { id: 'flatZeroBlue', pts: flatZeroBlue, color: BLUE, w: 2 },
];

const toPoints = (a: number[]) => {
  const out: { h: number; v: number }[] = [];
  for (let i = 0; i + 1 < a.length; i += 2) out.push({ h: a[i], v: a[i + 1] });
  return out;
};

const FONT = '"DejaVu Sans Mono", monospace';
const TICK = 5;

const BottomTick = (p: any) => (
  <g>
    <line x1={p.x} x2={p.x} y1={p.y} y2={p.y - TICK} stroke="#000" />
    <text x={p.x} y={p.y + 15} textAnchor="middle" fontFamily={FONT} fontSize={11} fill="#000">{p.payload.value}</text>
  </g>
);
const TopTick = (p: any) => (
  <line x1={p.x} x2={p.x} y1={p.y} y2={p.y + TICK} stroke="#000" />
);
const LeftTick = (p: any) => (
  <g>
    <line x1={p.x} x2={p.x + TICK} y1={p.y} y2={p.y} stroke="#000" />
    <text x={p.x - 8} y={p.y + 4} textAnchor="end" fontFamily={FONT} fontSize={11} fill="#000">{p.payload.value}</text>
  </g>
);
const RightTick = (p: any) => (
  <line x1={p.x} x2={p.x - TICK} y1={p.y} y2={p.y} stroke="#000" />
);

export default function App() {
  return (
    <div style={{ position: 'absolute', left: 0, top: 0, width: 640, height: 480, background: '#fff' }}>
      <LineChart width={640} height={480} margin={{ top: 32, right: 19, bottom: 0, left: 0 }} style={{ shapeRendering: 'crispEdges' }}>
        <XAxis xAxisId="b" type="number" dataKey="h" domain={hourDomain} ticks={hourTicks} allowDataOverflow
          height={34} tickSize={0} tickMargin={0} tickLine={false} axisLine={{ stroke: '#000' }} tick={<BottomTick />} interval={0} />
        <XAxis xAxisId="t" orientation="top" type="number" dataKey="h" domain={hourDomain} ticks={hourTicks} allowDataOverflow
          height={0} tickSize={0} tickMargin={0} tickLine={false} axisLine={{ stroke: '#000' }} tick={<TopTick />} interval={0} />
        <YAxis yAxisId="l" type="number" domain={valueDomain} ticks={valueTicks} allowDataOverflow
          width={51} tickSize={0} tickMargin={0} tickLine={false} axisLine={{ stroke: '#000' }} tick={<LeftTick />} interval={0} />
        <YAxis yAxisId="r" orientation="right" type="number" domain={valueDomain} ticks={valueTicks} allowDataOverflow
          width={0} tickSize={0} tickMargin={0} tickLine={false} axisLine={{ stroke: '#000' }} tick={<RightTick />} interval={0} />
        {series.map((s) => (
          <Line key={s.id} xAxisId="b" yAxisId="l" data={toPoints(s.pts)} dataKey="v" type="linear"
            stroke={s.color} strokeWidth={s.w ?? 1} dot={false} activeDot={false} isAnimationActive={false} />
        ))}
      </LineChart>
      <svg width={640} height={480} style={{ position: 'absolute', left: 0, top: 0, pointerEvents: 'none' }}>
        <text x={336} y={19.5} textAnchor="middle" fontFamily={FONT} fontSize={11.5} fill="#000">Cumulative Z-Squared Value</text>
        <text x={336} y={477} textAnchor="middle" fontFamily={FONT} fontSize={11.5} fill="#000">Hour of Day</text>
        <text x={15.5} y={239} transform="rotate(-90 15.5 239)" textAnchor="middle" fontFamily={FONT} fontSize={11.5} fill="#000">Cumulative (Z*Z)-1</text>
      </svg>
    </div>
  );
}
